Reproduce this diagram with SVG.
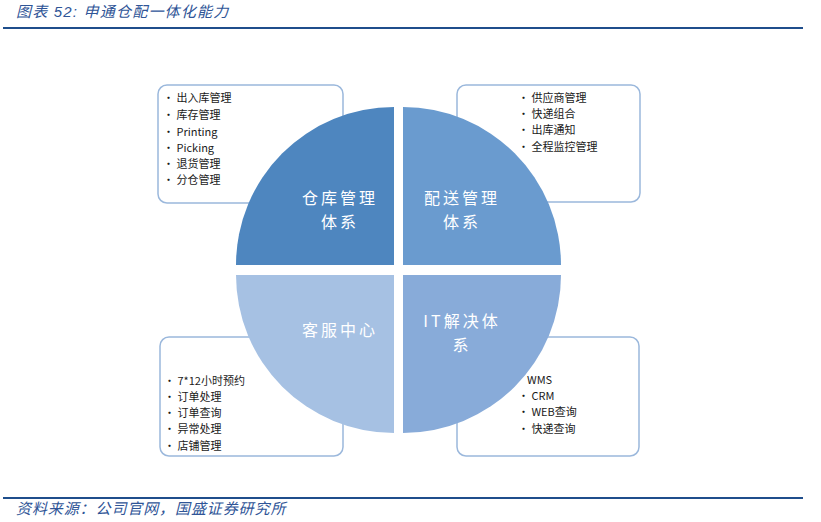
<svg xmlns="http://www.w3.org/2000/svg" width="821" height="522" viewBox="0 0 821 522">
<style>
.hdr{font-family:"Liberation Sans","Noto Sans CJK SC",sans-serif;font-style:italic;fill:#2f5597;font-size:15px;letter-spacing:1.2px}
.box{fill:#ffffff;stroke:#9bb8dc;stroke-width:1.5}
.item{font-family:"Noto Sans CJK SC",sans-serif;font-size:11px;fill:#1a1a1a}
.lbl{font-family:"Noto Sans CJK SC",sans-serif;font-size:16px;fill:#ffffff;text-anchor:middle;letter-spacing:3px}
</style>
<rect width="821" height="522" fill="#ffffff"/>
<text class="hdr" x="16" y="17">图表 52:  申通仓配一体化能力</text>
<line x1="3" y1="28" x2="803" y2="28" stroke="#1f4e8c" stroke-width="2.2"/>
<line x1="3" y1="498" x2="803" y2="498" stroke="#1f4e8c" stroke-width="2.2"/>
<text class="hdr" x="16" y="514" style="letter-spacing:0.9px">资料来源：公司官网，国盛证券研究所</text>

<g id="box-warehouse">
<rect class="box" x="158" y="85" width="185" height="118" rx="9"/>
<text class="item" x="163" y="102">• 出入库管理</text>
<text class="item" x="163" y="119">• 库存管理</text>
<text class="item" x="163" y="136">• Printing</text>
<text class="item" x="163" y="152">• Picking</text>
<text class="item" x="163" y="168">• 退货管理</text>
<text class="item" x="163" y="184">• 分仓管理</text>
</g>
<g id="box-delivery">
<rect class="box" x="457" y="85" width="183" height="117" rx="9"/>
<text class="item" x="518" y="102">• 供应商管理</text>
<text class="item" x="518" y="118">• 快递组合</text>
<text class="item" x="518" y="134">• 出库通知</text>
<text class="item" x="518" y="151">• 全程监控管理</text>
</g>
<g id="box-service">
<rect class="box" x="160" y="337" width="183" height="119" rx="9"/>
<text class="item" x="164" y="385">• 7*12小时预约</text>
<text class="item" x="164" y="401">• 订单处理</text>
<text class="item" x="164" y="417">• 订单查询</text>
<text class="item" x="164" y="433">• 异常处理</text>
<text class="item" x="164" y="450">• 店铺管理</text>
</g>
<g id="box-it">
<rect class="box" x="457" y="337" width="182" height="119" rx="9"/>
<text class="item" x="527" y="384">WMS</text>
<text class="item" x="518" y="400">• CRM</text>
<text class="item" x="518" y="416">• WEB查询</text>
<text class="item" x="518" y="433">• 快递查询</text>
</g>

<g id="q-warehouse">
<path d="M394,265 L236,265 A158,158 0 0 1 394,107 Z" fill="#4e86bf"/>
<text class="lbl" x="340" y="204">仓库管理</text>
<text class="lbl" x="340" y="228">体系</text>
</g>
<g id="q-delivery">
<path d="M403,265 L403,107 A158,158 0 0 1 561,265 Z" fill="#6a9bcf"/>
<text class="lbl" x="462" y="204">配送管理</text>
<text class="lbl" x="462" y="228">体系</text>
</g>
<g id="q-service">
<path d="M394,275 L394,433 A158,158 0 0 1 236,275 Z" fill="#a6c1e3"/>
<text class="lbl" x="340" y="336">客服中心</text>
</g>
<g id="q-it">
<path d="M403,275 L561,275 A158,158 0 0 1 403,433 Z" fill="#88abd9"/>
<text class="lbl" x="462" y="327">IT解决体</text>
<text class="lbl" x="462" y="351">系</text>
</g>
<g id="connectors"></g>
</svg>
